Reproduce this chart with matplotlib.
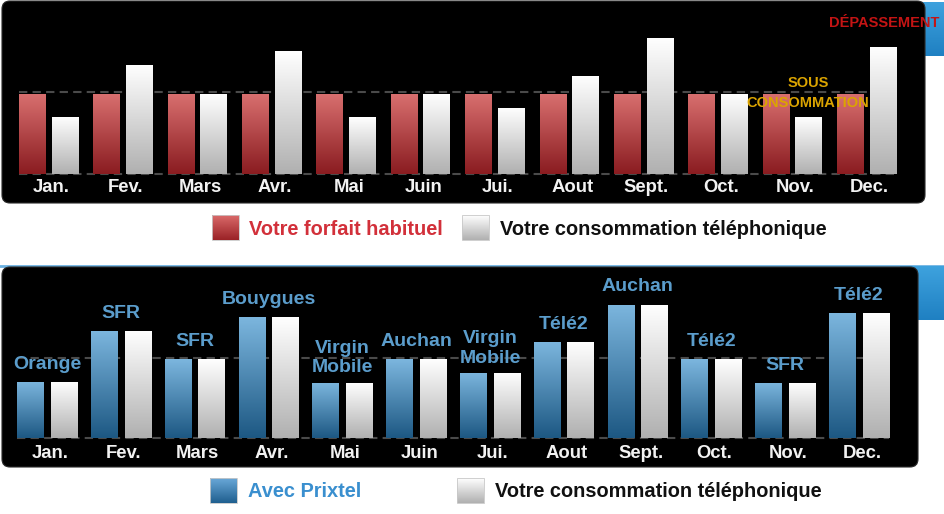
import numpy as np
import matplotlib
matplotlib.use('Agg')
import matplotlib.pyplot as plt
from matplotlib.colors import LinearSegmentedColormap
from matplotlib.patches import FancyBboxPatch, Rectangle

# ---------------- data ----------------
months = ['Jan.', 'Fev.', 'Mars', 'Avr.', 'Mai', 'Juin',
          'Jui.', 'Aout', 'Sept.', 'Oct.', 'Nov.', 'Dec.']
forfait = [98, 98, 98, 98, 98, 98, 98, 98, 98, 98, 98, 98]
consommation = [70, 133, 98, 150, 69, 98, 81, 120, 166, 98, 69, 155]
prixtel = [70, 133, 98, 150, 69, 98, 81, 120, 166, 98, 69, 155]
operateurs = ['Orange', 'SFR', 'SFR', 'Bouygues', 'Virgin\nMobile', 'Auchan',
              'Virgin\nMobile', 'Télé2', 'Auchan', 'Télé2', 'SFR', 'Télé2']
grid_levels = [0, 100]
legend_top = ['Votre forfait habituel', 'Votre consommation téléphonique']
legend_bottom = ['Avec Prixtel', 'Votre consommation téléphonique']

plt.rcParams['font.family'] = ['Liberation Sans', 'DejaVu Sans']

W, H = 945, 514
fig = plt.figure(figsize=(W / 100, H / 100), dpi=100)
fig.patch.set_facecolor('white')

bg = fig.add_axes([0, 0, 1, 1], zorder=0)
bg.set_xlim(0, W)
bg.set_ylim(H, 0)
bg.axis('off')


def px_axes(x0, y0, x1, y1, z=1):
    a = fig.add_axes([x0 / W, 1 - y1 / H, (x1 - x0) / W, (y1 - y0) / H], zorder=z)
    a.patch.set_alpha(0)
    a.axis('off')
    return a


def grad(ax, extent, c_top, c_bot, clip=None, z=2):
    cmap = LinearSegmentedColormap.from_list('g', [c_top, c_bot])
    g = np.linspace(0, 1, 128).reshape(-1, 1)
    im = ax.imshow(g, cmap=cmap, extent=extent, aspect='auto', origin='upper',
                   zorder=z, interpolation='bilinear')
    if clip is not None:
        im.set_clip_path(clip)
    return im


RED = ('#d97070', '#8a1c20')
WHITE = ('#ffffff', '#b0b0b0')
BLUE = ('#7cb6de', '#1d5883')

# ---------------- background panels ----------------
grad(bg, (905, 945, 56, 2), '#3ea2de', '#1f80c2', z=0)
bg.add_patch(FancyBboxPatch((2, 1), 923, 202, boxstyle='round,pad=0,rounding_size=8',
                            fc='black', ec='#2a2a2a', lw=0.8, zorder=1))
bg.plot([0, W], [265.5, 265.5], color='#6cb2e2', lw=2, zorder=0)
grad(bg, (900, 945, 320, 266), '#3ea2de', '#1f80c2', z=0)
bg.add_patch(FancyBboxPatch((2, 267), 916, 200, boxstyle='round,pad=0,rounding_size=8',
                            fc='black', ec='#2a2a2a', lw=0.8, zorder=1))


# ---------------- charts ----------------
def draw_chart(ax, left_vals, right_vals, left_col, right_col, off, w, ppu, lab_px):
    x = np.arange(len(months))
    ax.hlines(grid_levels, x[0] - off - w / 2, x[-1] + off + w / 2, colors='#4a4a4a',
              linestyles=(0, (4, 2.5)), lw=1.5, zorder=1)
    b1 = ax.bar(x - off, left_vals, w, color=left_col[1], zorder=2)
    b2 = ax.bar(x + off, right_vals, w, color=right_col[1], zorder=2)
    for bars, cols in ((b1, left_col), (b2, right_col)):
        for p in bars:
            grad(ax, (p.get_x(), p.get_x() + p.get_width(), 0, p.get_height()),
                 cols[0], cols[1], clip=p, z=3)
    for i, m in enumerate(months):
        ax.text(i + 0.04, -lab_px / ppu, m, ha='center', va='center', color='#f2f2f2',
                fontsize=13.3, fontweight='bold')
    return x


# top chart: pixel box x 2..925, y 0..203, baseline at 174, 0.82 px per unit
ax1 = px_axes(2, 0, 925, 203)
sp1, c1, ppu1 = 74.36, 48.6, 0.82
draw_chart(ax1, forfait, consommation, RED, WHITE, 16.3 / sp1, 26.5 / sp1, ppu1, 14)
ax1.text((884 - c1) / sp1, (174 - 22.7) / ppu1, 'DÉPASSEMENT', ha='center', va='center',
         color='#c41414', fontsize=10.5, fontweight='bold')
ax1.text((808 - c1) / sp1, (174 - 83) / ppu1, 'SOUS', ha='center', va='center',
         color='#dba400', fontsize=10.5, fontweight='bold', zorder=5)
ax1.text((808 - c1) / sp1, (174 - 103) / ppu1, 'CONSOMMATION', ha='center', va='center',
         color='#dba400', fontsize=10.5, fontweight='bold', zorder=5)
ax1.set_xlim((2 - c1) / sp1, (925 - c1) / sp1)
ax1.set_ylim(-(203 - 174) / ppu1, 174 / ppu1)

# bottom chart: pixel box x 2..918, y 267..467, baseline 438.3, 0.806 px per unit
ax2 = px_axes(2, 267, 918, 467)
sp2, c2, ppu2 = 73.8, 47.2, 0.806
x2 = draw_chart(ax2, prixtel, consommation, BLUE, WHITE, 16.8 / sp2, 26.3 / sp2, ppu2, 15.5)
for i, op in enumerate(operateurs):
    two = '\n' in op
    ax2.annotate(op, (x2[i], max(prixtel[i], consommation[i])),
                 xytext=(0, 4.5 if two else 6.5),
                 textcoords='offset points', ha='center', va='bottom', color='#5b9dcc',
                 fontsize=14, fontweight='bold', linespacing=1.2, zorder=5)
ax2.set_xlim((2 - c2) / sp2, (918 - c2) / sp2)
ax2.set_ylim(-(467 - 438.3) / ppu2, (438.3 - 267) / ppu2)


# ---------------- legends ----------------
def legend_item(x0, y0, cols, text, tx, ty, tcol):
    grad(bg, (x0, x0 + 27, y0 + 25, y0), cols[0], cols[1], z=2)
    bg.add_patch(Rectangle((x0, y0), 27, 25, fc='none', ec='#c8c8c8', lw=0.6, zorder=3))
    bg.text(tx, ty, text, ha='left', va='baseline', color=tcol, fontsize=14.4,
            fontweight='bold')


legend_item(211.5, 215, ('#da6a6a', '#9a2226'), legend_top[0], 249.3, 235, '#d2303a')
legend_item(462, 215, WHITE, legend_top[1], 500, 235, '#111111')
legend_item(210, 478, ('#6aa8d8', '#1f5f8f'), legend_bottom[0], 248.3, 497, '#3a8fcf')
legend_item(457, 478, WHITE, legend_bottom[1], 495, 497, '#111111')

bg.set_xlim(0, W)
bg.set_ylim(H, 0)

fig.savefig('out.png', dpi=100, facecolor='white')
